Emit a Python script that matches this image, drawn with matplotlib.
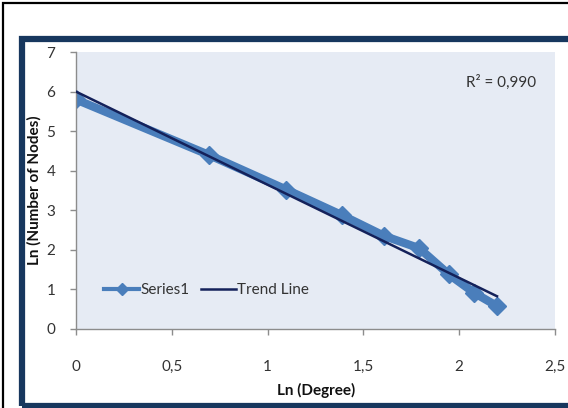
import numpy as np
import matplotlib
matplotlib.use("Agg")
import matplotlib.pyplot as plt
from matplotlib.patches import Rectangle
from matplotlib.lines import Line2D

plt.rcParams['font.family'] = ['Lato', 'DejaVu Sans']

# Degree distribution on a log-log scale
degrees = np.array([1, 2, 3, 4, 5, 6, 7, 8, 9])
ln_degree = np.log(degrees)
ln_nodes = np.array([5.80, 4.40, 3.52, 2.88, 2.35, 2.04, 1.38, 0.91, 0.58])
r2_text = "R\u00b2 = 0,990"

x_ticks = [0, 0.5, 1, 1.5, 2, 2.5]
x_ticklabels = ["0", "0,5", "1", "1,5", "2", "2,5"]
y_ticks = [0, 1, 2, 3, 4, 5, 6, 7]

series_color = '#4A7EBB'
trend_color = '#14215A'
text_color = '#333333'

W, H = 568, 408
fig = plt.figure(figsize=(W / 100, H / 100), dpi=100)
fig.patch.set_facecolor('white')


def fx(px):
    return px / W


def fy(py):
    return 1 - py / H


# outer frames
fig.add_artist(Rectangle((fx(3), fy(600)), fx(800), 600 / H - 3 / H,
                         transform=fig.transFigure, fill=False,
                         edgecolor='black', linewidth=1.6, zorder=0))
fig.add_artist(Rectangle((fx(22), fy(406)), fx(569 - 22), (406 - 39) / H,
                         transform=fig.transFigure, fill=False,
                         edgecolor='#17375E', linewidth=4.5, zorder=0))

ax = fig.add_axes([fx(76), fy(329), fx(555 - 76), (329 - 52) / H])
ax.set_facecolor('#E6EBF4')

# linear trend line
slope, intercept = np.polyfit(ln_degree, ln_nodes, 1)
trend_x = np.array([ln_degree[0], ln_degree[-1]])
trend_y = intercept + slope * trend_x

ax.plot(ln_degree, ln_nodes, color=series_color, linewidth=6,
        marker='D', markersize=9, solid_joinstyle='miter', zorder=2)
ax.plot(trend_x, trend_y, color=trend_color, linewidth=1.8, zorder=3)

ax.set_xlim(0, 2.5)
ax.set_ylim(0, 7)
ax.set_xticks(x_ticks)
ax.set_xticklabels(x_ticklabels)
ax.set_yticks(y_ticks)

for s in ['top', 'right']:
    ax.spines[s].set_visible(False)
for s in ['left', 'bottom']:
    ax.spines[s].set_color('#8C8C8C')
    ax.spines[s].set_linewidth(1.0)
ax.tick_params(axis='x', direction='out', length=4, width=1.0,
               color='#8C8C8C', pad=18, labelsize=11, labelcolor=text_color)
ax.tick_params(axis='y', direction='out', length=4, width=1.0,
               color='#8C8C8C', pad=11, labelsize=11, labelcolor=text_color)

fig.text(fx(316), fy(390), "Ln (Degree)", fontsize=11, fontweight='bold',
         color='#111111', ha='center', va='center')
fig.text(fx(34), fy(190), "Ln (Number of Nodes)", fontsize=11,
         fontweight='bold', color='#111111', ha='center', va='center',
         rotation=90)

ax.text(0.96, 0.89, r2_text, transform=ax.transAxes, ha='right',
        va='center', fontsize=11, color=text_color)

handles = [
    Line2D([], [], color=series_color, linewidth=3, marker='D', markersize=6),
    Line2D([], [], color=trend_color, linewidth=1.8),
]
leg = ax.legend(handles, ["Series1", "Trend Line"], loc='center left',
                bbox_to_anchor=(0.03, 0.14), ncol=2, frameon=False,
                fontsize=11, handlelength=2.3, handletextpad=0.1,
                columnspacing=0.7, labelcolor=text_color)

fig.savefig("out.png", dpi=100, facecolor='white')
